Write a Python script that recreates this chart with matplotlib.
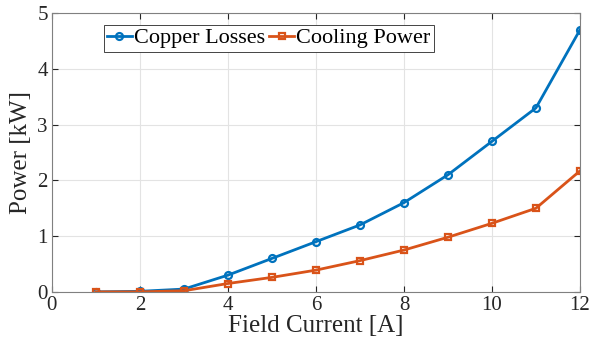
import numpy as np
import matplotlib
matplotlib.use('Agg')
from matplotlib import pyplot as plt

plt.rcParams['font.family'] = ['Liberation Serif', 'DejaVu Serif']
plt.rcParams['mathtext.fontset'] = 'stix'

current = [1, 2, 3, 4, 5, 6, 7, 8, 9, 10, 11, 12]
copper_losses = [0.0, 0.01, 0.05, 0.3, 0.6, 0.9, 1.2, 1.6, 2.1, 2.7, 3.3, 4.7]
cooling_power = [0.0, 0.0, 0.02, 0.15, 0.26, 0.39, 0.56, 0.75, 0.98, 1.23, 1.5, 2.17]
xticks = [0, 2, 4, 6, 8, 10, 12]
yticks = [0, 1, 2, 3, 4, 5]

fig = plt.figure(figsize=(5.9, 3.45), dpi=100)
ax = fig.add_axes([0.088, 0.154, 0.895, 0.808])

ax.plot(current, copper_losses, '-o', color='#0072BD', lw=2, ms=5,
        mfc='none', mew=1.6, label='Copper Losses')
ax.plot(current, cooling_power, '-s', color='#D95319', lw=2, ms=4.5,
        mfc='none', mew=1.6, label='Cooling Power')

ax.set_xlim(0, 12)
ax.set_ylim(0, 5)
ax.set_xticks(xticks)
ax.set_yticks(yticks)
ax.grid(True, color='#e3e3e3', lw=0.8)
ax.set_axisbelow(True)
ax.tick_params(direction='in', labelsize=15, right=True, top=True,
               colors='#262626', length=4, pad=3)
for s in ax.spines.values():
    s.set_color('#808080')
    s.set_linewidth(0.8)

ax.set_xlabel('Field Current [A]', fontsize=18, color='#262626', labelpad=0)
ax.set_ylabel('Power [kW]', fontsize=18, color='#262626', labelpad=4)

leg = ax.legend(loc='upper left', bbox_to_anchor=(0.09, 0.975), ncol=2,
                fontsize=16, handlelength=1.1, handletextpad=0.1,
                columnspacing=0.2, borderpad=0.15, borderaxespad=0.2,
                fancybox=False, framealpha=1)
leg.get_frame().set_edgecolor('#262626')
leg.get_frame().set_linewidth(0.6)

plt.savefig('out.png', dpi=100)
